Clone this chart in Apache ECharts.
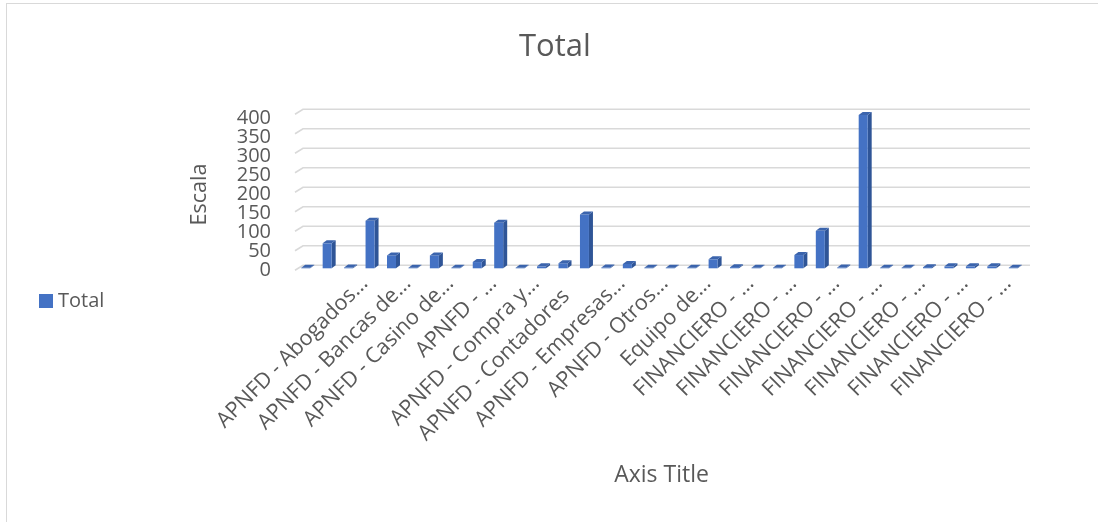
<!DOCTYPE html>
<html>
<head>
<meta charset="utf-8">
<script src="https://cdn.jsdelivr.net/npm/echarts@6/dist/echarts.min.js"></script>
<style>
html,body{margin:0;padding:0;background:#fff;overflow:hidden;}
#chart{position:absolute;left:0;top:0;width:1098px;height:522px;}
#frame{position:absolute;left:6px;top:3px;width:1200px;height:600px;border:1.5px solid #d9d9d9;pointer-events:none;}
</style>
</head>
<body>
<div id="chart"></div>
<div id="frame"></div>
<script>
// ---- data ----
const categories = [
  "(en blanco)", "APNFD - Agentes inmobiliarios", "APNFD - Abogados…", "APNFD - Arrendamiento mercantil",
  "APNFD - Bancas de…", "APNFD - Casas de empeño", "APNFD - Casino de…", "APNFD - Comercializadoras",
  "APNFD - …", "APNFD - Comercio de vehículos", "APNFD - Compra y…", "APNFD - Constructoras",
  "APNFD - Contadores", "APNFD - Courier", "APNFD - Empresas…", "APNFD - Notarios",
  "APNFD - Otros…", "APNFD - Transporte de valores", "Equipo de…", "FINANCIERO - Bancos",
  "FINANCIERO - …", "FINANCIERO - Casas de cambio", "FINANCIERO - …", "FINANCIERO - Compañías de seguros",
  "FINANCIERO - …", "FINANCIERO - Emisoras de tarjetas", "FINANCIERO - …", "FINANCIERO - Mutualistas",
  "FINANCIERO - …", "FINANCIERO - Remesadoras", "FINANCIERO - …", "FINANCIERO - Sociedades financieras",
  "FINANCIERO - …", "FINANCIERO - Otros"
];
const totals = [
  1, 64, 2, 122, 33, 1, 33, 1, 16, 117, 1, 5, 13, 138, 2, 11, 1,
  1, 1, 23, 3, 1, 1, 34, 96, 2, 393, 1, 1, 3, 5, 5, 5, 1
];
const yTicks = [0, 50, 100, 150, 200, 250, 300, 350, 400];
const yTickLabels = ["0", "50", "100", "150", "200", "250", "300", "350", "400"];
const seriesName = "Total";
const chartTitle = "Total";
const yAxisTitle = "Escala";
const xAxisTitle = "Axis Title";

// ---- chart ----
const FONT = "'Open Sans', 'DejaVu Sans', sans-serif";
const TXT = "#595959";
const chart = echarts.init(document.getElementById('chart'), null, {renderer: 'canvas'});

function barItem(params, api) {
  const i = api.value(0), v = api.value(1);
  const base = api.coord([i, 0]);
  const top = api.coord([i, v]);
  const w = 9, dx = 4, dy = 3;
  const cx = base[0] - 2;
  const l = cx - w / 2, r = cx + w / 2;
  const yb = base[1], yt = Math.min(top[1], yb - 0.5);
  return {
    type: 'group',
    children: [
      {type: 'polygon', shape: {points: [[r, yb], [r + dx, yb - dy], [r + dx, yt - dy], [r, yt]]},
       style: {fill: '#2f5597'}},
      {type: 'rect', shape: {x: l, y: yt, width: w, height: yb - yt},
       style: {fill: '#4472c4'}},
      {type: 'polygon', shape: {points: [[l, yt], [r, yt], [r + dx, yt - dy], [l + dx, yt - dy]]},
       style: {fill: '#3b64ad'}}
    ]
  };
}

function gridItem(params, api) {
  const t = api.value(0);
  const p0 = api.coord([0, t]);
  const p1 = api.coord([1, t]);
  return {
    type: 'polyline',
    shape: {points: [[p0[0] - 8, p0[1] + 5], [p0[0], p0[1]], [p1[0], p1[1]]]},
    style: {stroke: '#d9d9d9', lineWidth: 1.6, fill: null}
  };
}

function tickLabelItem(params, api) {
  const t = api.value(0);
  const p = api.coord([0, t]);
  return {
    type: 'text',
    x: p[0] - 26, y: p[1],
    style: {
      text: yTickLabels[params.dataIndex], fill: TXT,
      font: '20px ' + FONT, align: 'right', verticalAlign: 'middle'
    }
  };
}

const LBL_SHIFT = 4;
const option = {
  backgroundColor: '#ffffff',
  animation: false,
  textStyle: {fontFamily: FONT, color: TXT},
  title: {
    text: chartTitle, left: 514, top: 27,
    textStyle: {fontFamily: FONT, fontSize: 31, fontWeight: 'normal', color: TXT}
  },
  legend: {
    data: [{name: seriesName, icon: 'rect'}],
    left: 34, top: 286, itemWidth: 14, itemHeight: 14, itemGap: 5,
    textStyle: {fontFamily: FONT, fontSize: 20, color: TXT}
  },
  grid: [
    {left: 297, right: 72, top: 112.3, bottom: 522 - 268.3, containLabel: false},
    {left: 303, right: 68, top: 109.3, bottom: 522 - 265.3, containLabel: false},
    {left: 297, right: 72, top: 118.5, bottom: 522 - 270.5, containLabel: false},
    {left: 297 + LBL_SHIFT, right: 72 - LBL_SHIFT, top: 112.3, bottom: 522 - 268.3, containLabel: false}
  ],
  xAxis: [
    {
      type: 'category', gridIndex: 0, data: categories, boundaryGap: true,
      axisLine: {show: false}, axisTick: {show: false}, axisLabel: {show: false},
      name: xAxisTitle, nameLocation: 'middle', nameGap: 196,
      nameTextStyle: {fontFamily: FONT, fontSize: 23, color: TXT}
    },
    {type: 'value', gridIndex: 1, min: 0, max: 1, show: false},
    {type: 'value', gridIndex: 2, min: 0, max: 1, show: false},
    {
      type: 'category', gridIndex: 3, data: categories, boundaryGap: true,
      axisLine: {show: false}, axisTick: {show: false}, splitLine: {show: false},
      axisLabel: {
        rotate: 45, fontFamily: FONT, fontSize: 21.5, color: TXT, margin: 2,
        verticalAlign: 'top', lineHeight: 28,
        interval: function (index) { return index % 2 === 0 && index > 0; },
        formatter: function (value) {
          return value.endsWith('…') ? value : '{full|' + value + '}';
        },
        rich: {
          full: {fontFamily: FONT, fontSize: 21.5, color: TXT, lineHeight: 28, padding: [0, 18, 0, 0]}
        }
      }
    }
  ],
  yAxis: [
    {type: 'value', gridIndex: 0, min: 0, max: 400, interval: 50, show: false},
    {type: 'value', gridIndex: 1, min: 0, max: 400, interval: 50, show: false},
    {
      type: 'value', gridIndex: 2, min: 0, max: 400, interval: 50,
      axisLine: {show: false}, axisTick: {show: false}, splitLine: {show: false},
      axisLabel: {show: false},
      name: yAxisTitle, nameLocation: 'middle', nameGap: 86, nameRotate: 90,
      nameTextStyle: {fontFamily: FONT, fontSize: 21.5, color: TXT}
    },
    {type: 'value', gridIndex: 3, min: 0, max: 400, show: false}
  ],
  series: [
    {
      type: 'custom', name: '_grid', xAxisIndex: 1, yAxisIndex: 1, z: 1,
      silent: true, renderItem: gridItem,
      data: yTicks.map(t => [t]), encode: {y: 0}
    },
    {
      type: 'custom', name: '_ylabels', xAxisIndex: 2, yAxisIndex: 2, z: 2,
      silent: true, renderItem: tickLabelItem, clip: false,
      data: yTicks.map(t => [t]), encode: {y: 0}
    },
    {
      type: 'custom', name: seriesName, xAxisIndex: 0, yAxisIndex: 0, z: 3,
      itemStyle: {color: '#4472c4'},
      renderItem: barItem,
      data: totals.map((v, i) => [i, v]), encode: {x: 0, y: 1}
    }
  ]
};
chart.setOption(option);
</script>
</body>
</html>
